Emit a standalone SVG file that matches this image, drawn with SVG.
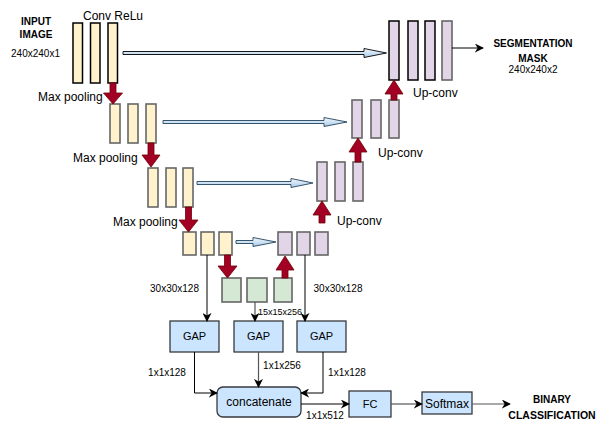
<svg xmlns="http://www.w3.org/2000/svg" width="608" height="431" viewBox="0 0 608 431">
<defs>
<linearGradient id="sk" x1="0" y1="0" x2="0" y2="1"><stop offset="0" stop-color="#f4f8fd"/><stop offset="1" stop-color="#a9cbea"/></linearGradient>
<marker id="ah" viewBox="0 0 10 10" refX="9" refY="5" markerWidth="9" markerHeight="9" markerUnits="userSpaceOnUse" orient="auto"><path d="M0,0 L10,5 L0,10 L3,5 z" fill="#000"/></marker>
</defs>
<style>
text{font-family:"Liberation Sans",Arial,sans-serif;fill:#000}
.t12{font-size:12px}
.t11{font-size:11px}
.t10{font-size:10px}
.b{font-weight:bold;font-size:10px}
.enc{fill:#fff2cc;stroke:#666;stroke-width:1.6}
.enc1{fill:#fff2cc;stroke:#000;stroke-width:1.5}
.dec{fill:#e1d5e7;stroke:#666;stroke-width:1.6}
.dec1{fill:#e1d5e7;stroke:#000;stroke-width:1.5}
.grn{fill:#d5e8d4;stroke:#666;stroke-width:1.6}
.gap{fill:#cce5ff;stroke:#36393d;stroke-width:1.3}
.red{fill:#a20025;stroke:#6f0000;stroke-width:0.8}
.skip{fill:url(#sk);stroke:#000;stroke-width:0.9}
.skip2{fill:url(#sk);stroke:#23445d;stroke-width:0.9}
.con{fill:none;stroke:#000;stroke-width:1;marker-end:url(#ah)}
.cong{fill:none;stroke:#555;stroke-width:1.2;marker-end:url(#ah)}
</style>

<g id="input-label">
<text class="b" x="36" y="25" text-anchor="middle">INPUT</text>
<text class="b" x="36" y="38" text-anchor="middle">IMAGE</text>
<text class="t10" x="35.5" y="57" text-anchor="middle">240x240x1</text>
</g>
<text class="t12" x="83" y="20">Conv ReLu</text>

<g id="enc1">
<rect class="enc1" x="73" y="23" width="9.5" height="60"/>
<rect class="enc1" x="90.5" y="23" width="9.5" height="60"/>
<rect class="enc1" x="108" y="23" width="9.5" height="60"/>
</g>
<g id="enc2">
<rect class="enc" x="110" y="104" width="10" height="39"/>
<rect class="enc" x="128" y="104" width="10" height="39"/>
<rect class="enc" x="146" y="104" width="10" height="39"/>
</g>
<g id="enc3">
<rect class="enc" x="148" y="168" width="10" height="39"/>
<rect class="enc" x="166" y="168" width="10" height="39"/>
<rect class="enc" x="183" y="168" width="10" height="39"/>
</g>
<g id="enc4">
<rect class="enc" x="183" y="232" width="13" height="23"/>
<rect class="enc" x="201" y="232" width="13" height="23"/>
<rect class="enc" x="219" y="232" width="13" height="23"/>
</g>
<g id="bottleneck">
<rect class="grn" x="222" y="278" width="19" height="24"/>
<rect class="grn" x="247" y="278" width="20" height="24"/>
<rect class="grn" x="274" y="278" width="18" height="24"/>
</g>
<g id="dec4">
<rect class="dec" x="278" y="232" width="14" height="23"/>
<rect class="dec" x="297" y="232" width="13" height="23"/>
<rect class="dec" x="315" y="232" width="13" height="23"/>
</g>
<g id="dec3">
<rect class="dec" x="317" y="162" width="10" height="39"/>
<rect class="dec" x="335" y="162" width="10" height="39"/>
<rect class="dec" x="353" y="162" width="10" height="39"/>
</g>
<g id="dec2">
<rect class="dec" x="352" y="100" width="10" height="38"/>
<rect class="dec" x="371" y="100" width="10" height="38"/>
<rect class="dec" x="389" y="100" width="10" height="38"/>
</g>
<g id="dec1">
<rect class="dec1" x="389" y="21" width="10" height="59"/>
<rect class="dec1" x="408" y="21" width="10" height="59"/>
<rect class="dec1" x="425" y="21" width="10" height="59"/>
<rect class="dec" x="442" y="21" width="10" height="59"/>
</g>

<g id="output-label">
<text class="b" x="533" y="47" text-anchor="middle">SEGMENTATION</text>
<text class="b" x="533" y="62" text-anchor="middle">MASK</text>
<text class="t10" x="533" y="73" text-anchor="middle">240x240x2</text>
</g>

<g id="gap1"><rect class="gap" x="170" y="321" width="49" height="31"/><text class="t11" x="194.5" y="340" text-anchor="middle">GAP</text></g>
<g id="gap2"><rect class="gap" x="234" y="321" width="49" height="31"/><text class="t11" x="258.5" y="340" text-anchor="middle">GAP</text></g>
<g id="gap3"><rect class="gap" x="297" y="321" width="49" height="31"/><text class="t11" x="321.5" y="340" text-anchor="middle">GAP</text></g>
<g id="concatenate"><rect class="gap" x="217" y="387" width="84" height="30" rx="6"/><text class="t12" x="259" y="406" text-anchor="middle">concatenate</text></g>
<g id="fc"><rect class="gap" x="349" y="391" width="42" height="26"/><text class="t11" x="370" y="408" text-anchor="middle">FC</text></g>
<g id="softmax"><rect class="gap" x="422" y="392" width="50" height="22"/><text class="t12" x="447" y="408" text-anchor="middle">Softmax</text></g>
<g id="binary-label">
<text class="b" x="552" y="403" text-anchor="middle">BINARY</text>
<text class="b" x="552" y="419" text-anchor="middle" style="font-size:10.5px">CLASSIFICATION</text>
</g>

<g id="connectors">
<path class="skip" d="M123,51.5 H364 V48.5 L386.5,53 L364,57.5 V54.5 H123 Z"/>
<path class="skip2" d="M163,120.5 H324 V117.5 L347,122 L324,126.5 V123.5 H163 Z"/>
<path class="skip2" d="M197,181.5 H291 V178.5 L313,183 L291,187.5 V184.5 H197 Z"/>
<path class="skip2" d="M236,240.5 H253 V237.5 L276,242 L253,246.5 V243.5 H236 Z"/>
<path class="red" d="M110,83 H116 V93 H122.5 L113,104 L103.5,93 H110 Z"/>
<path class="red" d="M148,143 H154 V155 H160 L151,167 L142,155 H148 Z"/>
<path class="red" d="M185.5,207 H191.5 V220 H198 L188.5,232 L179,220 H185.5 Z"/>
<path class="red" d="M224.5,255 H230.5 V266 H237 L227.5,278 L218,266 H224.5 Z"/>
<path class="red" d="M391,100 H397 V94 H403 L394,80 L385,94 H391 Z"/>
<path class="red" d="M355,162 H361 V152 H367 L358,138 L349,152 H355 Z"/>
<path class="red" d="M319,223 H325 V215 H331 L322,201 L313,215 H319 Z"/>
<path class="red" d="M282,278 H288 V270 H294 L285,256 L276,270 H282 Z"/>
<path class="con" d="M452,48 H483"/>
<path class="con" d="M207,255 V321"/>
<path class="con" d="M305,255 V321"/>
<path class="cong" d="M255,302 V321"/>
<path class="con" d="M194.5,352 V393 H217"/>
<path class="cong" d="M258.5,352 V387"/>
<path class="con" d="M323,352 V393 H301"/>
<path class="con" d="M301,404 H349"/>
<path class="cong" d="M391,404 H422"/>
<path class="cong" d="M472,404 H510"/>
</g>

<g id="labels">
<text class="t12" x="38" y="101">Max pooling</text>
<text class="t12" x="73" y="162">Max pooling</text>
<text class="t12" x="113" y="226">Max pooling</text>
<text class="t12" x="413" y="97">Up-conv</text>
<text class="t12" x="378" y="157">Up-conv</text>
<text class="t12" x="337" y="225">Up-conv</text>
<text class="t10" x="174.5" y="292" text-anchor="middle">30x30x128</text>
<text class="t10" x="338" y="292" text-anchor="middle">30x30x128</text>
<text x="280" y="315" text-anchor="middle" style="font-size:9px">15x15x256</text>
<text class="t10" x="167" y="376" text-anchor="middle">1x1x128</text>
<text class="t10" x="282" y="369" text-anchor="middle">1x1x256</text>
<text class="t10" x="347" y="376" text-anchor="middle">1x1x128</text>
<text class="t10" x="325" y="419" text-anchor="middle">1x1x512</text>
</g>
</svg>
